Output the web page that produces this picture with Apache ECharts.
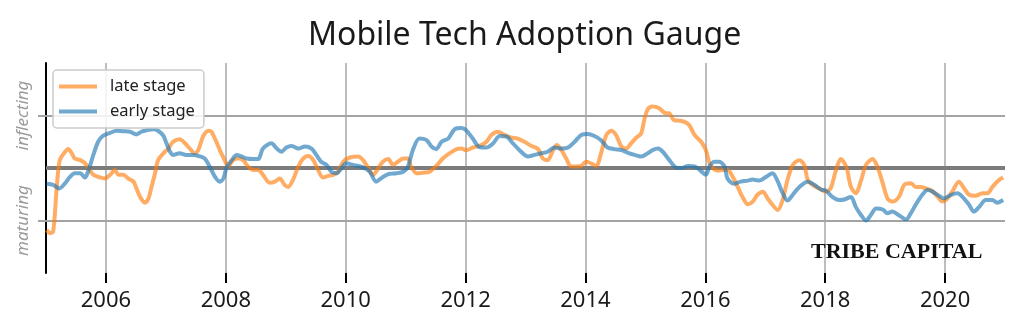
<!DOCTYPE html>
<html><head><meta charset="utf-8">
<script src="https://cdn.jsdelivr.net/npm/echarts@6/dist/echarts.min.js"></script>
<style>html,body{margin:0;padding:0;background:#fff}#c{width:1024px;height:331px}</style>
</head><body><div id="c"></div>
<script>
const titleText = 'Mobile Tech Adoption Gauge';
const seriesNames = ['late stage', 'early stage'];
const yearTicks = [2006, 2008, 2010, 2012, 2014, 2016, 2018, 2020];
const stageTicks = [-1, 1];
const stageNames = ['maturing', 'inflecting'];

const lateYears = [2005.01,2005.07,2005.12,2005.18,2005.23,2005.32,2005.37,2005.43,2005.48,2005.57,2005.65,2005.71,2005.79,2005.90,2005.98,2006.07,2006.15,2006.21,2006.29,2006.37,2006.46,2006.51,2006.57,2006.65,2006.71,2006.76,2006.82,2006.87,2006.96,2007.04,2007.12,2007.23,2007.32,2007.40,2007.48,2007.54,2007.62,2007.71,2007.76,2007.83,2007.90,2007.98,2008.04,2008.12,2008.21,2008.29,2008.37,2008.46,2008.54,2008.62,2008.73,2008.82,2008.90,2008.98,2009.04,2009.12,2009.21,2009.29,2009.37,2009.46,2009.54,2009.62,2009.71,2009.79,2009.87,2009.96,2010.07,2010.21,2010.29,2010.37,2010.46,2010.54,2010.62,2010.71,2010.79,2010.87,2010.96,2011.04,2011.09,2011.18,2011.29,2011.40,2011.51,2011.62,2011.73,2011.85,2011.93,2012.01,2012.12,2012.23,2012.35,2012.43,2012.54,2012.65,2012.76,2012.87,2012.98,2013.10,2013.21,2013.29,2013.37,2013.46,2013.52,2013.60,2013.68,2013.76,2013.84,2013.93,2014.01,2014.09,2014.18,2014.26,2014.35,2014.43,2014.51,2014.60,2014.68,2014.76,2014.85,2014.93,2014.98,2015.04,2015.12,2015.23,2015.32,2015.40,2015.48,2015.57,2015.65,2015.73,2015.82,2015.93,2016.01,2016.07,2016.12,2016.21,2016.29,2016.37,2016.46,2016.54,2016.62,2016.71,2016.79,2016.87,2016.96,2017.04,2017.12,2017.21,2017.29,2017.37,2017.46,2017.57,2017.65,2017.71,2017.79,2017.90,2018.01,2018.09,2018.18,2018.26,2018.35,2018.43,2018.51,2018.60,2018.68,2018.79,2018.87,2018.96,2019.04,2019.12,2019.23,2019.32,2019.43,2019.51,2019.60,2019.68,2019.76,2019.85,2019.96,2020.04,2020.12,2020.23,2020.32,2020.40,2020.51,2020.62,2020.71,2020.79,2020.90,2020.97];
const lateValues = [-1.18,-1.24,-1.21,-0.36,0.15,0.31,0.36,0.28,0.18,0.15,0.09,0.00,-0.13,-0.18,-0.20,-0.13,-0.04,-0.13,-0.13,-0.20,-0.26,-0.39,-0.55,-0.66,-0.58,-0.36,-0.10,0.15,0.28,0.37,0.50,0.55,0.47,0.37,0.28,0.34,0.60,0.71,0.69,0.53,0.34,0.15,0.03,0.15,0.18,0.15,0.03,-0.04,-0.04,-0.13,-0.28,-0.26,-0.20,-0.32,-0.36,-0.23,0.03,0.18,0.23,0.15,-0.04,-0.18,-0.15,-0.13,-0.07,0.12,0.20,0.22,0.15,0.01,-0.13,-0.01,0.12,0.17,0.06,0.12,0.18,0.18,0.03,-0.10,-0.09,-0.07,0.04,0.18,0.28,0.36,0.37,0.34,0.39,0.42,0.50,0.63,0.69,0.63,0.58,0.56,0.50,0.42,0.36,0.18,0.15,0.34,0.44,0.34,0.18,0.03,0.03,0.04,0.12,0.09,0.04,0.28,0.63,0.71,0.63,0.41,0.37,0.47,0.58,0.66,0.91,1.12,1.17,1.14,1.05,1.04,0.91,0.90,0.88,0.82,0.63,0.50,0.34,0.09,0.00,-0.05,-0.04,-0.04,-0.17,-0.36,-0.55,-0.69,-0.64,-0.51,-0.45,-0.58,-0.70,-0.80,-0.61,-0.23,0.06,0.15,0.06,-0.23,-0.32,-0.39,-0.45,-0.39,-0.04,0.17,0.03,-0.36,-0.48,-0.23,0.06,0.17,0.03,-0.29,-0.58,-0.64,-0.55,-0.32,-0.29,-0.36,-0.36,-0.39,-0.42,-0.51,-0.64,-0.58,-0.45,-0.26,-0.39,-0.51,-0.53,-0.48,-0.48,-0.36,-0.23,-0.18];

const earlyYears = [2005.01,2005.12,2005.22,2005.32,2005.40,2005.48,2005.57,2005.65,2005.71,2005.79,2005.87,2005.95,2006.07,2006.18,2006.29,2006.40,2006.51,2006.59,2006.68,2006.79,2006.87,2006.96,2007.01,2007.07,2007.12,2007.23,2007.34,2007.46,2007.57,2007.65,2007.73,2007.82,2007.90,2007.96,2008.01,2008.10,2008.18,2008.26,2008.35,2008.46,2008.54,2008.62,2008.76,2008.85,2008.93,2009.01,2009.10,2009.21,2009.32,2009.43,2009.51,2009.59,2009.68,2009.76,2009.85,2009.93,2010.01,2010.12,2010.29,2010.40,2010.51,2010.62,2010.73,2010.85,2010.96,2011.04,2011.12,2011.23,2011.35,2011.43,2011.51,2011.60,2011.71,2011.82,2011.93,2012.01,2012.12,2012.23,2012.35,2012.46,2012.57,2012.68,2012.79,2012.90,2013.04,2013.15,2013.26,2013.37,2013.48,2013.60,2013.71,2013.82,2013.93,2014.04,2014.15,2014.26,2014.37,2014.48,2014.60,2014.71,2014.82,2014.93,2015.04,2015.12,2015.21,2015.29,2015.40,2015.51,2015.60,2015.71,2015.82,2015.90,2016.01,2016.07,2016.15,2016.23,2016.32,2016.37,2016.48,2016.59,2016.71,2016.79,2016.90,2017.01,2017.12,2017.21,2017.29,2017.37,2017.46,2017.57,2017.71,2017.82,2017.93,2018.01,2018.12,2018.23,2018.32,2018.43,2018.51,2018.60,2018.68,2018.76,2018.85,2018.96,2019.04,2019.12,2019.23,2019.35,2019.43,2019.51,2019.62,2019.71,2019.79,2019.90,2019.98,2020.10,2020.21,2020.29,2020.40,2020.48,2020.57,2020.68,2020.79,2020.87,2020.97];
const earlyValues = [-0.30,-0.32,-0.39,-0.29,-0.17,-0.10,-0.10,-0.18,-0.04,0.25,0.50,0.61,0.67,0.71,0.70,0.69,0.64,0.69,0.72,0.74,0.71,0.61,0.47,0.31,0.25,0.28,0.25,0.25,0.22,0.18,0.03,-0.17,-0.26,-0.20,0.00,0.15,0.25,0.22,0.18,0.17,0.17,0.37,0.47,0.37,0.31,0.39,0.42,0.37,0.41,0.37,0.25,0.12,0.06,-0.07,-0.10,0.00,0.09,0.06,0.01,-0.07,-0.26,-0.17,-0.11,-0.10,-0.07,0.03,0.34,0.56,0.53,0.41,0.36,0.50,0.56,0.74,0.76,0.72,0.56,0.40,0.39,0.47,0.61,0.60,0.47,0.34,0.22,0.25,0.28,0.31,0.39,0.37,0.39,0.50,0.63,0.65,0.61,0.53,0.39,0.36,0.34,0.29,0.25,0.22,0.28,0.34,0.37,0.31,0.15,0.01,0.00,0.04,0.03,-0.03,-0.13,0.03,0.12,0.12,0.03,-0.20,-0.30,-0.26,-0.24,-0.22,-0.24,-0.17,-0.10,-0.26,-0.48,-0.62,-0.51,-0.36,-0.26,-0.32,-0.41,-0.43,-0.55,-0.61,-0.60,-0.55,-0.74,-0.90,-1.00,-0.90,-0.77,-0.79,-0.86,-0.83,-0.90,-0.98,-0.86,-0.70,-0.51,-0.42,-0.45,-0.53,-0.58,-0.51,-0.48,-0.55,-0.70,-0.83,-0.74,-0.61,-0.61,-0.66,-0.61];

const zip = (xs, ys) => xs.map((x, i) => [x, ys[i]]);
const gridMarks = [];
yearTicks.forEach(y => gridMarks.push({ xAxis: y, lineStyle: { color: '#bdbdbd', width: 2, type: 'solid' } }));
stageTicks.forEach(v => gridMarks.push({ yAxis: v, lineStyle: { color: '#a3a3a3', width: 2, type: 'solid' } }));
gridMarks.push({ yAxis: 0, lineStyle: { color: '#7c7c7c', width: 4, type: 'solid' } });

const chart = echarts.init(document.getElementById('c'), null, { renderer: 'canvas' });
chart.setOption({
  animation: false,
  backgroundColor: '#fff',
  title: {
    text: titleText, left: 303, top: 15,
    textStyle: { fontFamily: 'Noto Sans', fontSize: 32, fontWeight: 'normal', color: '#1a1a1a' }
  },
  legend: {
    data: seriesNames, orient: 'vertical', left: 53, top: 70,
    icon: 'rect', itemWidth: 38, itemHeight: 4, itemGap: 6,
    padding: [7, 9, 7, 6], borderColor: '#cccccc', borderWidth: 1.5, borderRadius: 4,
    backgroundColor: 'rgba(255,255,255,0.85)',
    textStyle: { fontFamily: 'Noto Sans', fontSize: 16.5, color: '#222', lineHeight: 19, padding: [0, 0, 0, 8] }
  },
  grid: { left: 46, right: 19, top: 63, bottom: 58, containLabel: false },
  xAxis: {
    type: 'value', min: 2005, max: 2021,
    axisLine: { show: true, onZero: false, lineStyle: { color: '#000', width: 2, opacity: 0 } },
    axisTick: { show: true, customValues: yearTicks, length: 10, lineStyle: { color: '#000', width: 2, opacity: 1 } },
    axisLabel: { customValues: yearTicks, formatter: v => String(v), fontFamily: 'Noto Sans', fontSize: 22, color: '#1a1a1a', margin: 17 },
    splitLine: { show: false }
  },
  yAxis: {
    type: 'value', min: -2, max: 2,
    axisLine: { show: true, onZero: false, lineStyle: { color: '#000', width: 2 } },
    axisTick: { show: true, customValues: stageTicks, length: 8, lineStyle: { color: '#a3a3a3', width: 2 } },
    axisLabel: {
      customValues: stageTicks, rotate: 90, margin: 14,
      formatter: v => stageNames[stageTicks.indexOf(v)],
      fontFamily: 'Noto Sans', fontStyle: 'italic', fontSize: 17, color: '#9a9a9a'
    },
    splitLine: { show: false }
  },
  graphic: [{
    type: 'text', x: 811, y: 252, z: 10,
    style: { text: 'TRIBE CAPITAL', font: 'bold 22px "Liberation Serif"', fill: '#111', verticalAlign: 'middle', textVerticalAlign: 'middle' }
  }],
  series: [
    {
      name: '__grid', type: 'line', data: [], z: 1, silent: true,
      markLine: { silent: true, z: 1, symbol: ['none', 'none'], label: { show: false }, animation: false, data: gridMarks }
    },
    {
      name: seriesNames[0], type: 'line', z: 3, data: zip(lateYears, lateValues),
      showSymbol: false, symbol: 'none', smooth: 0.3,
      color: 'rgba(255,127,14,0.64)',
      lineStyle: { width: 4, color: 'rgba(255,127,14,0.64)' },
      emphasis: { disabled: true }
    },
    {
      name: seriesNames[1], type: 'line', z: 3, data: zip(earlyYears, earlyValues),
      showSymbol: false, symbol: 'none', smooth: 0.3,
      color: 'rgba(31,119,180,0.64)',
      lineStyle: { width: 4, color: 'rgba(31,119,180,0.64)' },
      emphasis: { disabled: true }
    }
  ]
});
</script>
</body></html>
